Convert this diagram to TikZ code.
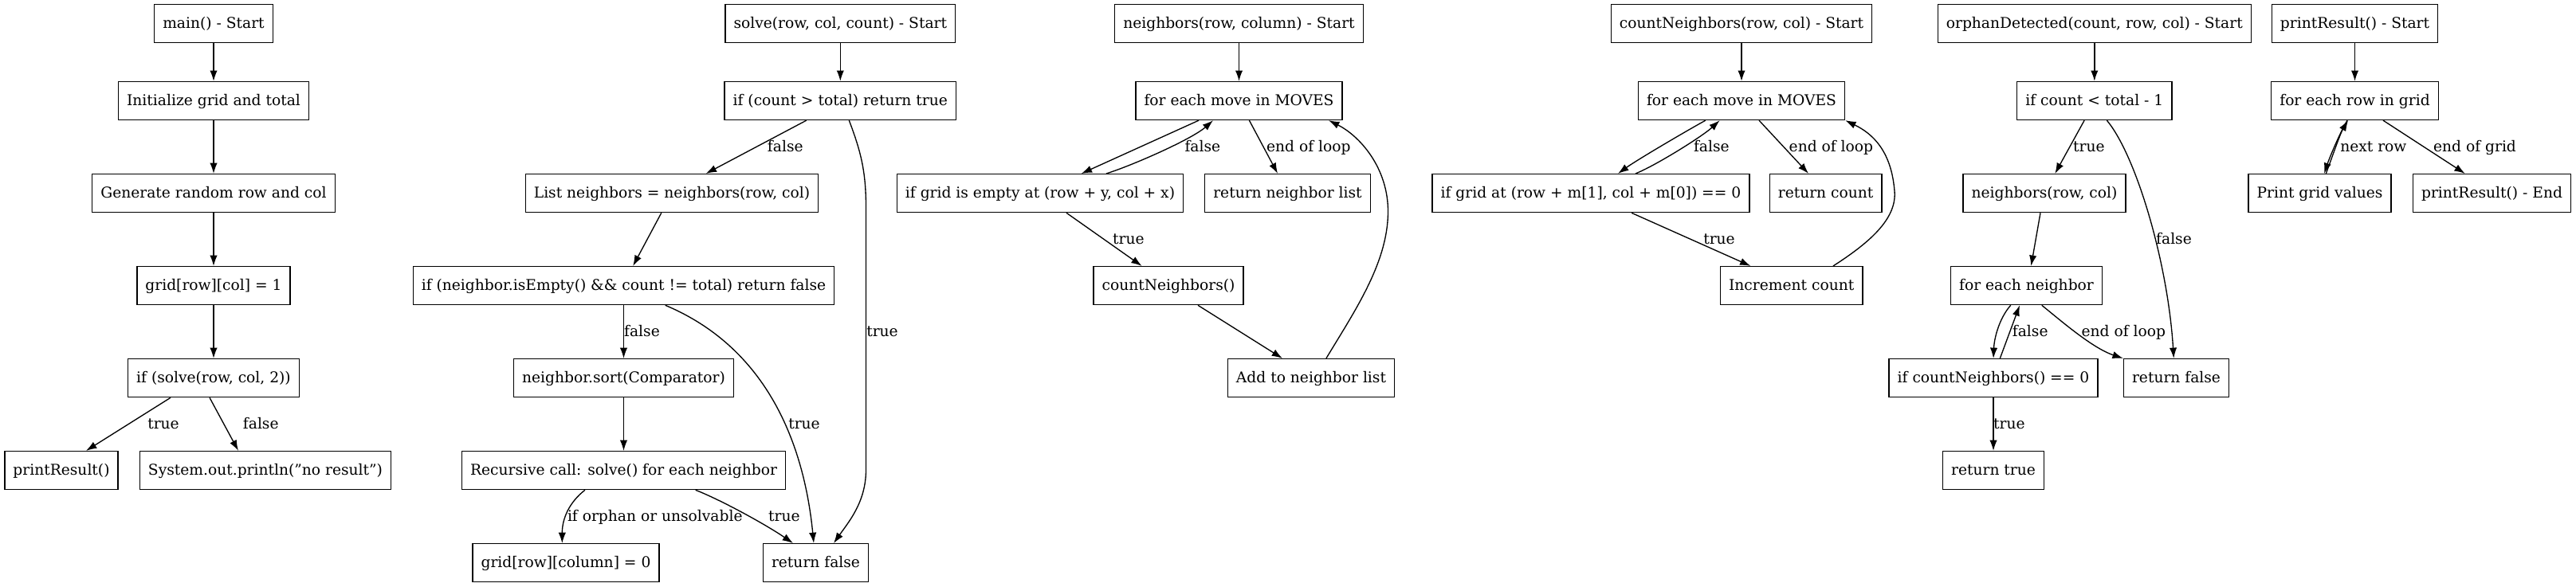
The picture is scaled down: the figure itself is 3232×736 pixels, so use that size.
\documentclass[tikz,border=0pt]{standalone}
\usepackage{fontspec}
\setmainfont{DejaVu Serif}
\usetikzlibrary{arrows.meta, math}

\tikzset{
box/.style={draw, line width=1pt, rectangle, inner xsep=7.92pt, inner ysep=0pt, minimum height=36pt, minimum width=54pt, text height=12pt, text depth=3pt, font=\fontsize{14}{17}\selectfont},
lbl/.style={inner sep=0pt, text height=12pt, text depth=3pt, font=\fontsize{14}{17}\selectfont},
flow/.style={-{Latex[length=10pt,width=7pt]}, line width=1pt},
}

\begin{document}
\begin{tikzpicture}[x=0.75pt, y=-0.75pt]
\tikzmath{
\ya=29.3;
\yb=126.5;
\yc=242.6;
\yd=358.6;
\ye=474.6;
\yf=590.6;
\yg=706.7;
\hb=(\yb+\yc)/2;
\hc=(\yc+\yd)/2;
\hd=(\yd+\ye)/2;
\he=(\ye+\yf)/2;
\hf=(\yf+\yg)/2;
}
\useasboundingbox (0,0) rectangle (3232,736);

%main
\node[box] (mainStart) at (268,\ya) {main() - Start};
\node[box] (mainInit) at (268,\yb) {Initialize grid and total};
\node[box] (mainRand) at (268,\yc) {Generate random row and col};
\node[box] (mainSet) at (268,\yd) {grid[row][col] = 1};
\node[box] (mainIf) at (268,\ye) {if (solve(row, col, 2))};
\node[box] (mainPrint) at (77,\yf) {printResult()};
\node[box] (mainFail) at (333,\yf) {System.out.println("no result")};

\draw[flow] (mainStart) -- (mainInit);
\draw[flow] (mainInit) -- (mainRand);
\draw[flow] (mainRand) -- (mainSet);
\draw[flow] (mainSet) -- (mainIf);
\draw[flow] ([shift={(-54,0)}]mainIf.south) -- ([shift={(31,0)}]mainPrint.north);
\draw[flow] ([shift={(-5,0)}]mainIf.south) -- ([shift={(-34,0)}]mainFail.north);
\node[lbl] (mainTrue) at (205,\he) {true};
\node[lbl] (mainFalse) at (327.3,\he) {false};

%solve
\node[box] (solveStart) at (1054.3,\ya) {solve(row, col, count) - Start};
\node[box] (solveBase) at (1054.3,\yb) {if (count > total) return true};
\node[box] (solveList) at (843,\yc) {List neighbors = neighbors(row, col)};
\node[box] (solveEmpty) at (782.5,\yd) {if (neighbor.isEmpty() \&\& count != total) return false};
\node[box] (solveSort) at (782.5,\ye) {neighbor.sort(Comparator)};
\node[box] (solveRec) at (782.5,\yf) {Recursive call: solve() for each neighbor};
\node[box] (solveReset) at (710,\yg) {grid[row][column] = 0};
\node[box] (solveFalse) at (1023.5,\yg) {return false};

\draw[flow] (solveStart) -- (solveBase);
\draw[flow] ([shift={(-42.6,0)}]solveBase.south) -- ([shift={(42.7,0)}]solveList.north);
\draw[flow] ([shift={(11,0)}]solveBase.south) .. controls (1080,190) and (1086.5,215) .. (1086.5,260)
  -- (1086.5,590) .. controls (1086.5,630) and (1065,655) .. ([shift={(22.5,0)}]solveFalse.north);
\draw[flow] ([shift={(-13.2,0)}]solveList.south) -- ([shift={(11.7,0)}]solveEmpty.north);
\draw[flow] (solveEmpty) -- (solveSort);
\draw[flow] ([shift={(52.2,0)}]solveEmpty.south) .. controls (970,440) and (1010,570) .. ([shift={(-2.5,0)}]solveFalse.north);
\draw[flow] (solveSort) -- (solveRec);
\draw[flow] ([shift={(-48.6,0)}]solveRec.south) .. controls (715,630) and (705.3,650) .. ([shift={(-4.7,0)}]solveReset.north);
\draw[flow] ([shift={(90.2,0)}]solveRec.south) .. controls (903,627) and (960,658) .. ([shift={(-28.5,0)}]solveFalse.north);
\node[lbl] (solveBaseFalse) at (985.3,\hb) {false};
\node[lbl] (solveBaseTrue) at (1107,\hd) {true};
\node[lbl] (solveEmptyFalse) at (805.5,\hd) {false};
\node[lbl] (solveEmptyTrue) at (1009,\he) {true};
\node[lbl] (solveRecOrphan) at (821.8,\hf) {if orphan or unsolvable};
\node[lbl] (solveRecTrue) at (983.9,\hf) {true};

%neighbors
\node[box] (nbStart) at (1554.5,\ya) {neighbors(row, column) - Start};
\node[box] (nbLoop) at (1554.5,\yb) {for each move in MOVES};
\node[box] (nbCheck) at (1305,\yc) {if grid is empty at (row + y, col + x)};
\node[box] (nbReturn) at (1615.5,\yc) {return neighbor list};
\node[box] (nbCount) at (1466,\yd) {countNeighbors()};
\node[box] (nbAdd) at (1645,\ye) {Add to neighbor list};

\draw[flow] (nbStart) -- (nbLoop);
\draw[flow] ([shift={(-50.5,0)}]nbLoop.south) -- ([shift={(51.7,0)}]nbCheck.north);
\draw[flow] ([shift={(83,0)}]nbCheck.north) .. controls (1420,208) and (1495,175) .. ([shift={(-32.5,0)}]nbLoop.south);
\draw[flow] ([shift={(12.9,0)}]nbLoop.south) -- ([shift={(-12.5,0)}]nbReturn.north);
\draw[flow] ([shift={(33,0)}]nbCheck.south) -- ([shift={(-33.4,0)}]nbCount.north);
\draw[flow] ([shift={(37,0)}]nbCount.south) -- ([shift={(-36,0)}]nbAdd.north);
\draw[flow] ([shift={(18.9,0)}]nbAdd.north) .. controls (1700,390) and (1741,330) .. (1741.5,266.7)
  .. controls (1742,210) and (1705,170) .. ([shift={(112.5,0)}]nbLoop.south);
\node[lbl] (nbFalse) at (1508.8,\hb) {false};
\node[lbl] (nbEnd) at (1641.8,\hb) {end of loop};
\node[lbl] (nbTrue) at (1415.8,\hc) {true};

%countNeighbors
\node[box] (cnStart) at (2185,\ya) {countNeighbors(row, col) - Start};
\node[box] (cnLoop) at (2185,\yb) {for each move in MOVES};
\node[box] (cnCheck) at (1996,\yc) {if grid at (row + m[1], col + m[0]) == 0};
\node[box] (cnReturn) at (2290.6,\yc) {return count};
\node[box] (cnInc) at (2247.7,\yd) {Increment count};

\draw[flow] (cnStart) -- (cnLoop);
\draw[flow] ([shift={(-45.2,0)}]cnLoop.south) .. controls (2120,162) and (2055,200) .. ([shift={(34,0)}]cnCheck.north);
\draw[flow] ([shift={(56,0)}]cnCheck.north) .. controls (2075,209) and (2135,172) .. ([shift={(-27.4,0)}]cnLoop.south);
\draw[flow] ([shift={(22,0)}]cnLoop.south) -- ([shift={(-21.6,0)}]cnReturn.north);
\draw[flow] ([shift={(51,0)}]cnCheck.south) -- ([shift={(-51.3,0)}]cnInc.north);
\draw[flow] ([shift={(52.3,0)}]cnInc.north) .. controls (2345,305) and (2380,275) .. (2377,240)
  .. controls (2373,190) and (2350,168) .. (cnLoop.south east);
\node[lbl] (cnFalse) at (2147.3,\hb) {false};
\node[lbl] (cnEnd) at (2297.4,\hb) {end of loop};
\node[lbl] (cnTrue) at (2157,\hc) {true};

%orphanDetected
\node[box] (orStart) at (2627.8,\ya) {orphanDetected(count, row, col) - Start};
\node[box] (orIf) at (2627.8,\yb) {if count < total - 1};
\node[box] (orNb) at (2565,\yc) {neighbors(row, col)};
\node[box] (orLoop) at (2542.5,\yd) {for each neighbor};
\node[box] (orCheck) at (2501,\ye) {if countNeighbors() == 0};
\node[box] (orFalse) at (2730.5,\ye) {return false};
\node[box] (orTrue) at (2501,\yf) {return true};

\draw[flow] (orStart) -- (orIf);
\draw[flow] ([shift={(-12.7,0)}]orIf.south) -- ([shift={(13.3,0)}]orNb.north);
\draw[flow] ([shift={(15.6,0)}]orIf.south) .. controls (2680,195) and (2720,330) .. ([shift={(-3.2,0)}]orFalse.north);
\draw[flow] ([shift={(-5,0)}]orNb.south) -- ([shift={(5.8,0)}]orLoop.north);
\draw[flow] ([shift={(-19.8,0)}]orLoop.south) .. controls (2508,400) and (2502,425) .. (orCheck.north);
\draw[flow] ([shift={(8.3,0)}]orCheck.north) -- ([shift={(-8.5,0)}]orLoop.south);
\draw[flow] ([shift={(19.2,0)}]orLoop.south) .. controls (2585,402) and (2625,437) .. (orFalse.north west);
\draw[flow] (orCheck) -- (orTrue);
\node[lbl] (orIfTrue) at (2620.8,\hb) {true};
\node[lbl] (orIfFalse) at (2727.5,\hc) {false};
\node[lbl] (orCheckFalse) at (2547.2,\hd) {false};
\node[lbl] (orEnd) at (2664.3,\hd) {end of loop};
\node[lbl] (orCheckTrue) at (2520.8,\he) {true};

%printResult
\node[box] (prStart) at (2954.5,\ya) {printResult() - Start};
\node[box] (prLoop) at (2954.5,\yb) {for each row in grid};
\node[box] (prRow) at (2910.5,\yc) {Print grid values};
\node[box] (prEnd) at (3126.5,\yc) {printResult() - End};

\draw[flow] (prStart) -- (prLoop);
\draw[flow] ([shift={(-9.5,0)}]prLoop.south) .. controls (2935,168) and (2922,200) .. ([shift={(5.5,0)}]prRow.north);
\draw[flow] ([shift={(7.8,0)}]prRow.north) .. controls (2925,200) and (2936,168) .. ([shift={(-8.5,0)}]prLoop.south);
\draw[flow] ([shift={(35.5,0)}]prLoop.south) -- ([shift={(-33.8,0)}]prEnd.north);
\node[lbl] (prNext) at (2977.8,\hb) {next row};
\node[lbl] (prDone) at (3105,\hb) {end of grid};

\end{tikzpicture}
\end{document}
